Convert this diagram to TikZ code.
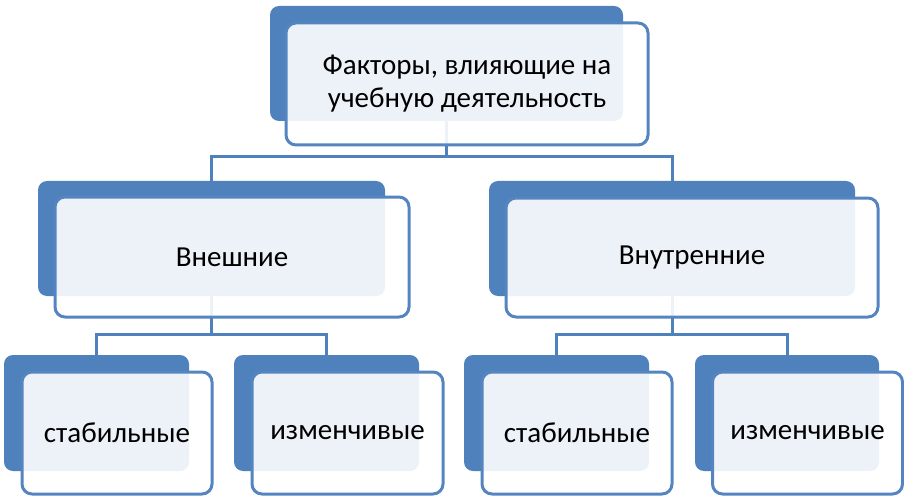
\documentclass[tikz,border=0pt]{standalone}
\usepackage{fontspec}
\setmainfont{Carlito}
\definecolor{acc}{HTML}{4F81BD}
\definecolor{frame}{HTML}{5585C0}
\begin{document}
\begin{tikzpicture}[x=1pt,y=-1pt,
  backbox/.style={fill=acc, draw=none, rounded corners=9pt, inner sep=0pt},
  frontbox/.style={fill=white, fill opacity=0.9, text opacity=1, draw=frame, line width=3pt, rounded corners=10pt, inner sep=0pt, align=center, font=\fontsize{29}{33}\selectfont},
  conn/.style={draw=acc, line width=3pt}]
\useasboundingbox (0,0) rectangle (904,497);
% back boxes
\node[backbox, minimum width=353pt, minimum height=115pt] (b0) at (446.5,63.5) {};
\node[backbox, minimum width=347pt, minimum height=115pt] (b1) at (211.5,238.5) {};
\node[backbox, minimum width=366pt, minimum height=115pt] (b2) at (672,238.5) {};
\node[backbox, minimum width=185pt, minimum height=116pt] (b3) at (96.5,413) {};
\node[backbox, minimum width=185pt, minimum height=116pt] (b4) at (326.5,413) {};
\node[backbox, minimum width=185pt, minimum height=116pt] (b5) at (556.5,413) {};
\node[backbox, minimum width=184pt, minimum height=116pt] (b6) at (787,413) {};
% connectors
\coordinate (j0) at (446.5,157);
\coordinate (j1) at (211.5,334);
\coordinate (j2) at (672,334);
\draw[conn] (b0.south) -- (j0);
\draw[conn] (b1.north) |- (j0) -| (b2.north);
\draw[conn] (b1.south) -- (j1);
\draw[conn] (b3.north) |- (j1) -| (b4.north);
\draw[conn] (b2.south) -- (j2);
\draw[conn] (b5.north) |- (j2) -| (b6.north);
% front boxes
\node[frontbox, minimum width=362pt, minimum height=122pt] (f0) at (467,84) {Факторы, влияющие на\\учебную деятельность};
\node[frontbox, minimum width=354pt, minimum height=120pt] (f1) at (232,257) {Внешние};
\node[frontbox, minimum width=372pt, minimum height=119pt] (f2) at (692,257.5) {Внутренние};
\node[frontbox, minimum width=190pt, minimum height=122pt] (f3) at (117,433) {стабильные};
\node[frontbox, minimum width=191pt, minimum height=122pt] (f4) at (347.5,433) {изменчивые};
\node[frontbox, minimum width=190pt, minimum height=122pt] (f5) at (577,433) {стабильные};
\node[frontbox, minimum width=190pt, minimum height=122pt] (f6) at (807.5,433) {изменчивые};
\end{tikzpicture}
\end{document}
